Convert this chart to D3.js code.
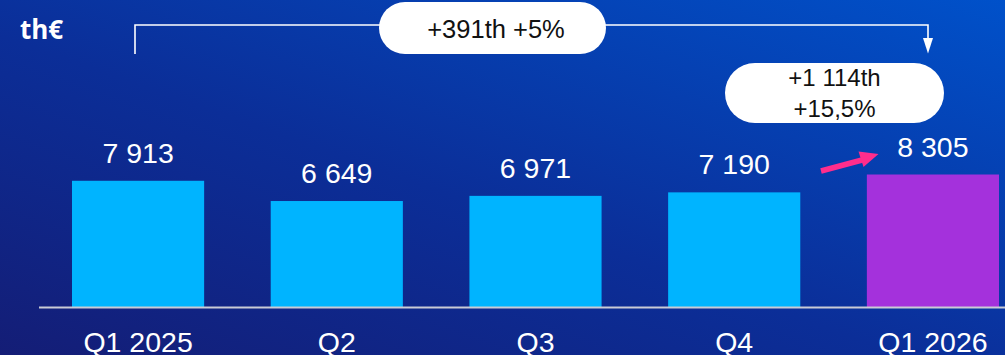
<!DOCTYPE html>
<html>
<head>
<meta charset="utf-8">
<script src="https://cdn.jsdelivr.net/npm/d3@7"></script>
<style>
  html, body { margin: 0; padding: 0; background: #0d2a8c; }
  svg { display: block; }
</style>
</head>
<body>
<svg id="chart" width="1005" height="355"></svg>
<script>
// Quarterly revenue, thousands of euros
const categories = ["Q1 2025", "Q2", "Q3", "Q4", "Q1 2026"];
const values = [7913, 6649, 6971, 7190, 8305];
const valueLabels = ["7 913", "6 649", "6 971", "7 190", "8 305"];
const barColors = ["#00b4ff", "#00b4ff", "#00b4ff", "#00b4ff", "#a431dc"];
const unitLabel = "th€";
const yearOverYear = ["+391th +5%"];
const quarterOverQuarter = ["+1 114th", "+15,5%"];

const W = 1005, H = 355;
const baseY = 307.5;
const svg = d3.select("#chart");

// Background: navy at the lower left, brighter blue at the upper right
const defs = svg.append("defs");
const bg = defs.append("linearGradient")
  .attr("id", "bg").attr("x1", "0%").attr("y1", "100%").attr("x2", "100%").attr("y2", "0%");
bg.append("stop").attr("offset", "0%").attr("stop-color", "#141d76");
bg.append("stop").attr("offset", "45%").attr("stop-color", "#0b2e98");
bg.append("stop").attr("offset", "100%").attr("stop-color", "#0051ca");
svg.append("rect").attr("width", W).attr("height", H).attr("fill", "url(#bg)");

const x = d3.scaleBand().domain(categories).range([72, 999]).paddingInner(0.335).paddingOuter(0);
const y = d3.scaleLinear().domain([0, 8305]).range([baseY, baseY - 133]);

const font = "'Liberation Sans', Arial, sans-serif";

// Bars
svg.append("g").selectAll("rect").data(values).join("rect")
  .attr("x", (d, i) => x(categories[i]))
  .attr("width", x.bandwidth())
  .attr("y", d => y(d))
  .attr("height", d => y(0) - y(d))
  .attr("fill", (d, i) => barColors[i]);

// Baseline
svg.append("line")
  .attr("x1", 39).attr("x2", W).attr("y1", baseY).attr("y2", baseY)
  .attr("stroke", "#c9cbd6").attr("stroke-width", 2);

// Value labels
svg.append("g").selectAll("text").data(values).join("text")
  .attr("x", (d, i) => x(categories[i]) + x.bandwidth() / 2)
  .attr("y", d => y(d) - 18)
  .attr("text-anchor", "middle")
  .attr("font-family", font).attr("font-size", 28.5)
  .attr("fill", "#ffffff")
  .text((d, i) => valueLabels[i]);

// Category axis labels
const xAxis = d3.axisBottom(x).tickSize(0).tickPadding(0);
const gx = svg.append("g").attr("transform", `translate(0,${baseY})`).call(xAxis);
gx.select(".domain").remove();
gx.selectAll("text")
  .attr("dy", null).attr("y", 44.5)
  .attr("font-family", font).attr("font-size", 28.5)
  .attr("fill", "#ffffff");

// Unit label
svg.append("text")
  .attr("x", 20).attr("y", 39)
  .attr("font-family", "'Open Sans', sans-serif").attr("font-weight", 700).attr("font-size", 26)
  .attr("fill", "#ffffff").text(unitLabel);

// Year-over-year bracket from the first to the last quarter
const xFirst = 135, xLast = 928, bracketY = 25;
svg.append("path")
  .attr("d", `M${xFirst},54 V${bracketY} H${xLast} V44`)
  .attr("fill", "none").attr("stroke", "#ffffff").attr("stroke-width", 1.6);
svg.append("path")
  .attr("d", `M${xLast - 5},38 L${xLast + 5},38 L${xLast},53.5 Z`)
  .attr("fill", "#ffffff");

// Annotation pills
svg.append("rect")
  .attr("x", 379).attr("y", 2).attr("width", 227).attr("height", 52)
  .attr("rx", 26).attr("fill", "#ffffff");
svg.append("text")
  .attr("x", 496).attr("y", 37.5).attr("text-anchor", "middle")
  .attr("font-family", font).attr("font-size", 25.5).attr("fill", "#111111")
  .text(yearOverYear[0]);

svg.append("rect")
  .attr("x", 725).attr("y", 63).attr("width", 219).attr("height", 60)
  .attr("rx", 30).attr("fill", "#ffffff");
svg.append("g").selectAll("text").data(quarterOverQuarter).join("text")
  .attr("x", 834.5).attr("y", (d, i) => 86 + i * 30.5).attr("text-anchor", "middle")
  .attr("font-family", font).attr("font-size", 24).attr("fill", "#111111")
  .text(d => d);

// Pink growth arrow toward the latest quarter
const arrowPink = "#ff2d8c";
svg.append("line")
  .attr("x1", 821).attr("y1", 171).attr("x2", 864).attr("y2", 159.5)
  .attr("stroke", arrowPink).attr("stroke-width", 5.5);
svg.append("path")
  .attr("d", "M878.5,154 L858.5,151.5 L863.5,167 Z")
  .attr("fill", arrowPink);
</script>
</body>
</html>
